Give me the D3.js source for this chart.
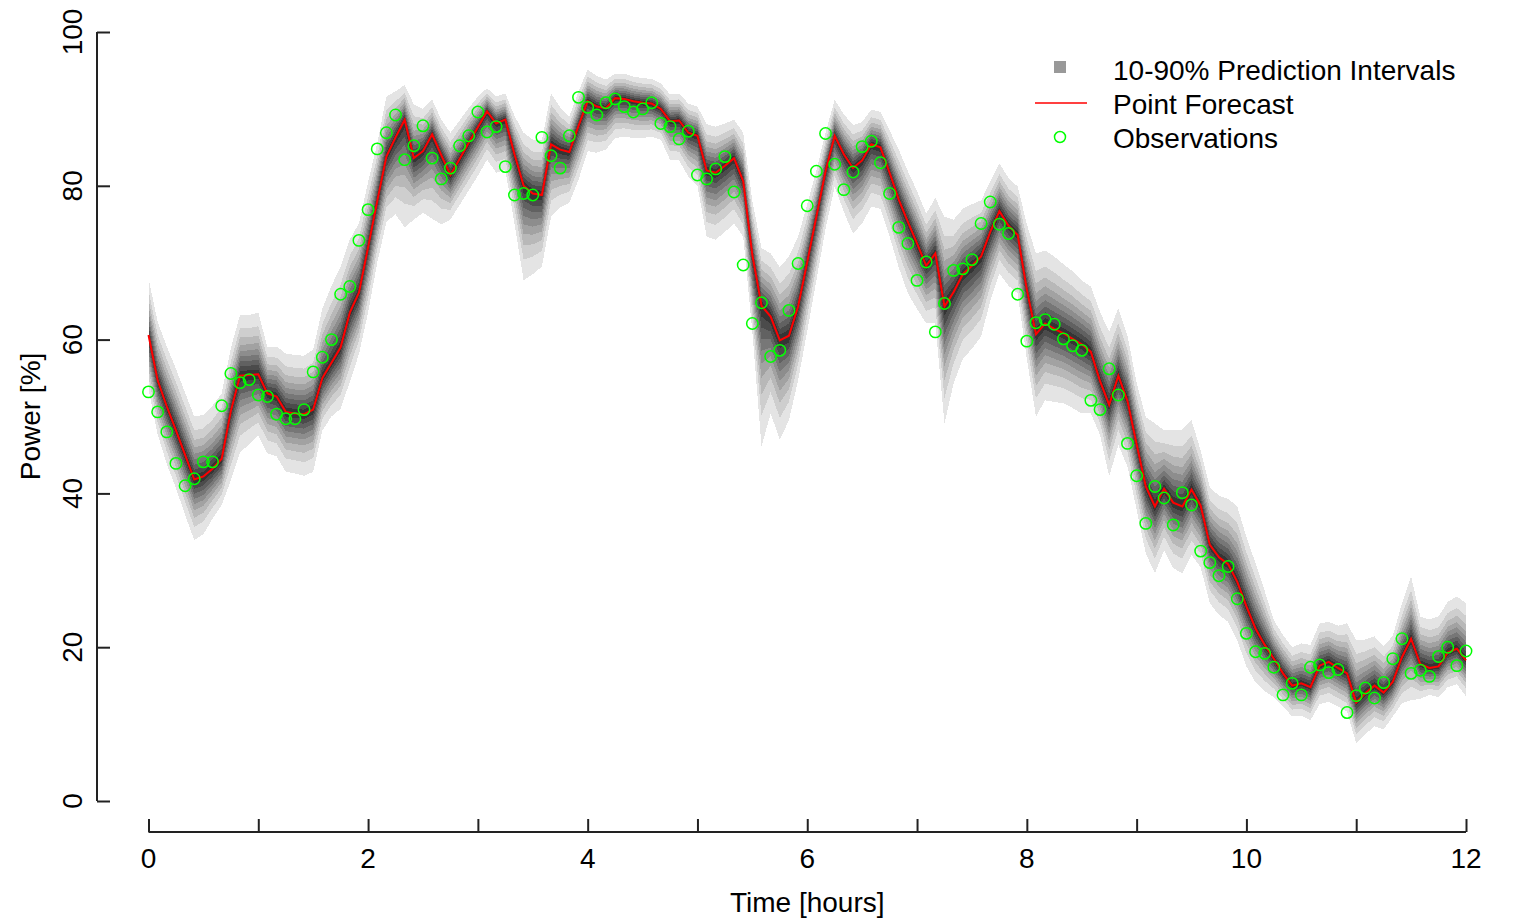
<!DOCTYPE html>
<html>
<head>
<meta charset="utf-8">
<script src="https://cdn.jsdelivr.net/npm/d3@7"></script>
<style>
  html, body { margin: 0; padding: 0; background: #fff; }
  svg { display: block; }
  text { font-family: "Liberation Sans", Arial, sans-serif; fill: #000; }
</style>
</head>
<body>
<svg id="chart" width="1514" height="920"></svg>
<script>
// Wind power forecast, 5-minute resolution over 12 hours (145 steps).
const stepMinutes = 5;

// Point forecast [%]
const forecast = [
  60.6, 54.7, 51.3, 48.2, 45.0, 41.8, 42.2, 43.2, 44.5, 50.7,
  55.3, 55.4, 55.5, 53.0, 52.6, 50.6, 50.4, 50.3, 50.9, 55.0,
  57.0, 59.0, 63.5, 66.1, 72.0, 78.0, 83.8, 86.3, 88.6, 83.6,
  84.5, 86.7, 84.0, 81.4, 83.5, 85.6, 87.6, 89.7, 88.1, 88.6,
  84.1, 80.0, 79.0, 78.8, 85.4, 84.7, 84.4, 87.8, 91.0, 90.3,
  90.1, 91.4, 91.3, 91.0, 90.8, 90.7, 90.0, 88.4, 88.5, 86.9,
  86.5, 82.0, 81.7, 82.6, 83.6, 80.6, 71.0, 64.4, 63.0, 59.9,
  60.5, 64.3, 70.1, 76.0, 81.9, 86.5, 84.1, 82.3, 83.3, 85.4,
  85.0, 81.7, 78.2, 75.3, 72.5, 69.6, 71.2, 64.3, 66.2, 68.5,
  69.6, 70.8, 74.0, 76.7, 74.8, 73.6, 66.5, 60.7, 62.1, 61.4,
  60.8, 60.1, 59.4, 58.4, 54.6, 51.5, 55.3, 52.0, 46.4, 40.9,
  38.3, 40.6, 38.8, 38.3, 40.5, 38.4, 33.3, 31.7, 30.8, 28.5,
  25.3, 22.4, 20.3, 18.5, 16.6, 15.0, 15.3, 14.8, 17.6, 18.1,
  17.3, 16.6, 12.8, 14.0, 15.0, 14.1, 15.5, 18.7, 21.1, 17.8,
  17.3, 17.5, 19.3, 19.8, 18.3
];

// Measured power [%]
const observed = [
  53.2, 50.6, 48.0, 43.9, 41.0, 41.9, 44.1, 44.1, 51.4, 55.6,
  54.4, 54.8, 52.8, 52.6, 50.3, 49.7, 49.7, 50.9, 55.8, 57.7,
  60.0, 65.9, 66.9, 72.9, 76.9, 84.8, 86.9, 89.2, 83.4, 85.2,
  87.8, 83.6, 80.9, 82.3, 85.2, 86.5, 89.6, 87.0, 87.7, 82.5,
  78.8, 79.0, 78.8, 86.3, 83.9, 82.3, 86.5, 91.5, 90.2, 89.2,
  90.8, 91.3, 90.3, 89.6, 90.0, 90.8, 88.1, 87.7, 86.1, 87.1,
  81.4, 80.9, 82.2, 83.8, 79.2, 69.7, 62.1, 64.8, 57.8, 58.6,
  63.8, 69.9, 77.4, 81.9, 86.8, 82.8, 79.5, 81.8, 85.1, 85.8,
  83.0, 79.0, 74.6, 72.5, 67.7, 70.1, 61.0, 64.7, 69.0, 69.2,
  70.4, 75.1, 77.9, 75.0, 73.8, 65.9, 59.8, 62.2, 62.6, 62.0,
  60.1, 59.2, 58.6, 52.1, 50.9, 56.2, 52.8, 46.5, 42.3, 36.1,
  40.9, 39.4, 35.9, 40.1, 38.5, 32.5, 31.0, 29.3, 30.5, 26.3,
  21.8, 19.4, 19.2, 17.4, 13.8, 15.3, 13.8, 17.4, 17.7, 16.7,
  17.1, 11.5, 13.7, 14.7, 13.4, 15.4, 18.5, 21.1, 16.6, 17.0,
  16.2, 18.8, 20.0, 17.6, 19.5
];

// Distance from the forecast to the outermost quantile, above and below [%]
const upperSpread = [
  7.4, 7.6, 7.8, 8.0, 8.1, 8.2, 8.0, 8.2, 8.5, 8.2,
  7.9, 7.8, 8.0, 6.0, 6.5, 7.6, 7.6, 7.6, 7.8, 9.0,
  10.0, 10.5, 9.5, 9.0, 8.5, 7.5, 7.8, 6.0, 4.5, 7.0,
  5.5, 4.5, 4.6, 5.5, 5.0, 4.5, 4.0, 3.0, 3.5, 3.4,
  5.0, 6.9, 7.0, 7.2, 6.6, 5.5, 4.6, 4.5, 4.1, 4.0,
  3.7, 3.2, 3.3, 3.2, 3.2, 3.2, 3.3, 3.5, 3.5, 3.8,
  3.8, 6.0, 6.0, 5.5, 5.0, 6.3, 7.0, 7.5, 8.2, 9.5,
  10.3, 9.1, 7.5, 6.0, 5.0, 4.7, 5.2, 5.6, 5.0, 4.5,
  4.6, 5.5, 6.5, 6.6, 6.8, 6.8, 7.2, 11.7, 9.4, 8.5,
  8.0, 7.3, 6.5, 6.2, 6.2, 6.3, 8.5, 10.5, 9.5, 9.4,
  9.0, 8.8, 8.3, 8.5, 9.0, 9.5, 8.8, 8.5, 8.0, 9.0,
  10.8, 7.6, 9.5, 10.0, 9.0, 7.2, 7.5, 8.0, 8.5, 9.8,
  9.0, 8.5, 7.0, 5.0, 5.0, 5.0, 5.2, 5.5, 5.5, 5.2,
  5.5, 6.5, 8.1, 7.0, 6.4, 6.0, 6.0, 7.0, 8.1, 6.2,
  6.3, 6.5, 6.6, 6.8, 7.4
];
const lowerSpread = [
  7.0, 7.0, 7.5, 7.5, 7.8, 7.9, 7.5, 6.5, 6.0, 9.0,
  10.0, 9.0, 8.0, 7.8, 7.8, 7.8, 7.8, 8.0, 8.1, 6.8,
  7.0, 8.0, 9.0, 8.0, 8.5, 8.0, 8.5, 10.0, 14.0, 8.0,
  8.0, 11.0, 9.0, 5.8, 6.0, 6.2, 6.3, 6.3, 6.4, 6.5,
  9.0, 12.3, 10.5, 9.3, 9.4, 7.5, 6.6, 7.0, 6.5, 6.0,
  5.4, 5.2, 4.9, 4.8, 4.6, 4.3, 4.0, 5.0, 5.2, 5.7,
  6.5, 8.6, 8.7, 8.6, 8.5, 7.2, 10.0, 18.3, 12.6, 12.9,
  11.0, 9.6, 9.0, 8.3, 7.5, 6.6, 7.5, 8.5, 8.2, 8.1,
  8.0, 8.3, 8.8, 9.3, 8.5, 7.5, 9.0, 15.2, 11.9, 11.0,
  10.8, 10.4, 9.0, 8.1, 7.8, 7.6, 9.0, 10.7, 10.0, 9.5,
  9.1, 9.0, 9.0, 8.0, 7.0, 9.3, 9.0, 8.5, 8.5, 8.7,
  8.7, 8.0, 8.5, 8.7, 8.5, 8.0, 7.6, 7.5, 7.5, 7.6,
  7.8, 7.0, 6.0, 5.0, 4.3, 4.0, 4.2, 4.3, 5.0, 5.2,
  5.0, 5.0, 5.3, 5.3, 5.3, 4.8, 4.5, 6.0, 8.0, 4.5,
  3.5, 4.0, 4.5, 4.6, 4.7
];

// Nominal coverage of the nested intervals (outer to inner) and
// their width relative to the outermost one.
const coverage = [90, 80, 70, 60, 50, 40, 30, 20, 10];
const relWidth = [1.0, 0.78, 0.63, 0.51, 0.41, 0.32, 0.235, 0.155, 0.077];

const xTicks = [0, 1, 2, 3, 4, 5, 6, 7, 8, 9, 10, 11, 12];
const xTickLabels = ["0", "", "2", "", "4", "", "6", "", "8", "", "10", "", "12"];
const yTicks = [0, 20, 40, 60, 80, 100];

const legendLabels = ["10-90% Prediction Intervals", "Point Forecast", "Observations"];

// ---------------------------------------------------------------------------
const svg = d3.select("#chart");
const FONT = 28;

const x = d3.scaleLinear().domain([0, 12]).range([148.5, 1466]);
const y = d3.scaleLinear().domain([0, 100]).range([801, 32]);

const rows = forecast.map((f, i) => ({
  t: i * stepMinutes / 60,
  f,
  obs: observed[i],
  up: upperSpread[i],
  lo: lowerSpread[i]
}));

const shade = d3.scaleLinear()
  .domain([0, coverage.length - 1])
  .range(["#e4e4e4", "#353535"])
  .interpolate(d3.interpolateRgb);

// Fan of prediction intervals
const gBands = svg.append("g");
relWidth.forEach((w, k) => {
  const area = d3.area()
    .x(d => x(d.t))
    .y0(d => y(d.f - w * d.lo))
    .y1(d => y(d.f + w * d.up));
  gBands.append("path")
    .datum(rows)
    .attr("d", area)
    .attr("fill", shade(k))
    .attr("stroke", "none")
    .attr("shape-rendering", "crispEdges");
});

// Point forecast
svg.append("path")
  .datum(rows)
  .attr("d", d3.line().x(d => x(d.t)).y(d => y(d.f)))
  .attr("fill", "none")
  .attr("stroke", "#ff0000")
  .attr("stroke-width", 2);

// Observations
svg.append("g").selectAll("circle")
  .data(rows)
  .join("circle")
  .attr("cx", d => x(d.t))
  .attr("cy", d => y(d.obs))
  .attr("r", 5.7)
  .attr("fill", "none")
  .attr("stroke", "#00ff00")
  .attr("stroke-width", 1.5);

// Y axis (ticks pointing inward, labels rotated)
const yAxisX = 97;
const gY = svg.append("g").attr("transform", `translate(${yAxisX},0)`);
gY.call(d3.axisRight(y).tickValues(yTicks).tickSize(13).tickFormat(""));
gY.select(".domain").attr("d", `M0,${y(0)}V${y(100)}`).attr("stroke", "#222").attr("stroke-width", 2);
gY.selectAll(".tick line").attr("stroke", "#222").attr("stroke-width", 2);
svg.append("g").selectAll("text")
  .data(yTicks)
  .join("text")
  .attr("transform", d => `translate(72,${y(d)}) rotate(-90)`)
  .attr("text-anchor", "middle")
  .attr("dominant-baseline", "central")
  .attr("font-size", FONT)
  .text(d => d);

// X axis
const xAxisY = 832;
const gX = svg.append("g").attr("transform", `translate(0,${xAxisY})`);
gX.call(d3.axisTop(x).tickValues(xTicks).tickSize(13).tickFormat(""));
gX.select(".domain").attr("d", `M${x(0)},0H${x(12)}`).attr("stroke", "#222").attr("stroke-width", 2);
gX.selectAll(".tick line").attr("stroke", "#222").attr("stroke-width", 2);
svg.append("g").selectAll("text")
  .data(xTicks.filter((d, i) => xTickLabels[i] !== ""))
  .join("text")
  .attr("x", d => x(d))
  .attr("y", 858)
  .attr("text-anchor", "middle")
  .attr("dominant-baseline", "central")
  .attr("font-size", FONT)
  .text(d => xTickLabels[xTicks.indexOf(d)]);

// Axis titles
svg.append("text")
  .attr("x", (x(0) + x(12)) / 2)
  .attr("y", 902)
  .attr("text-anchor", "middle")
  .attr("dominant-baseline", "central")
  .attr("font-size", FONT)
  .text("Time [hours]");
svg.append("text")
  .attr("transform", `translate(30,${(y(0) + y(100)) / 2}) rotate(-90)`)
  .attr("text-anchor", "middle")
  .attr("dominant-baseline", "central")
  .attr("font-size", FONT)
  .text("Power [%]");

// Legend
const legend = svg.append("g");
const legendRowY = [70, 104, 138];
const keyX = 1060;
legend.append("rect")
  .attr("x", keyX - 6).attr("y", legendRowY[0] - 9)
  .attr("width", 12).attr("height", 12)
  .attr("fill", "#999999");
legend.append("line")
  .attr("x1", keyX - 25).attr("x2", keyX + 27)
  .attr("y1", legendRowY[1] - 1).attr("y2", legendRowY[1] - 1)
  .attr("stroke", "#ff0000").attr("stroke-width", 1.6);
legend.append("circle")
  .attr("cx", keyX).attr("cy", legendRowY[2] - 1).attr("r", 5.5)
  .attr("fill", "none").attr("stroke", "#00ff00").attr("stroke-width", 1.5);
legend.selectAll("text.lbl")
  .data(legendLabels)
  .join("text")
  .attr("class", "lbl")
  .attr("x", 1113)
  .attr("y", (d, i) => legendRowY[i])
  .attr("dominant-baseline", "central")
  .attr("font-size", FONT)
  .text(d => d);
</script>
</body>
</html>
